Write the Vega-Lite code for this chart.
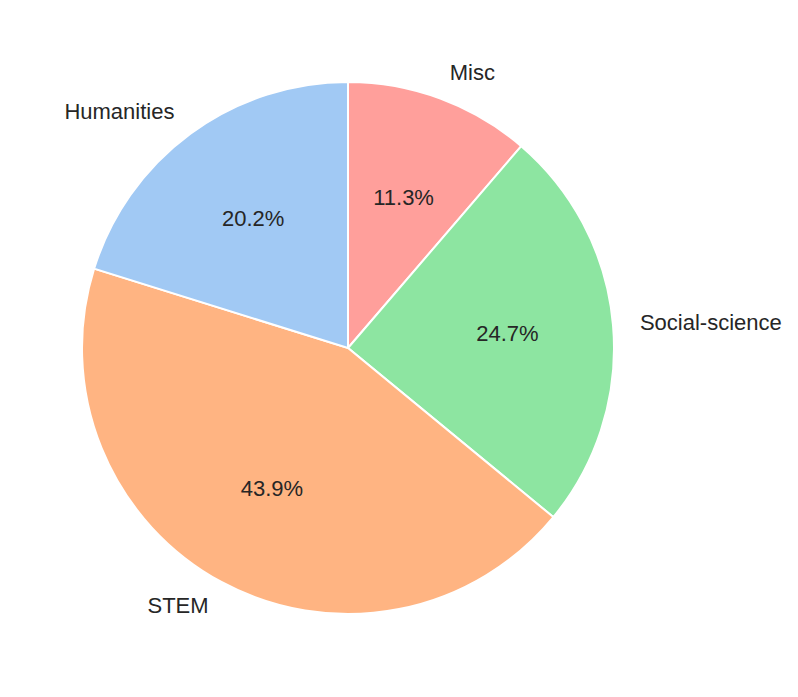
{
  "$schema": "https://vega.github.io/schema/vega-lite/v6.json",
  "width": 696,
  "height": 696,
  "padding": {"left": 0, "top": 0, "right": 102, "bottom": 1},
  "autosize": "none",
  "background": "white",
  "view": {"stroke": null},
  "data": {
    "values": [
      {"category": "Misc", "value": 11.3, "label": "11.3%", "order": 1},
      {"category": "Social-science", "value": 24.7, "label": "24.7%", "order": 2},
      {"category": "STEM", "value": 43.9, "label": "43.9%", "order": 3},
      {"category": "Humanities", "value": 20.2, "label": "20.2%", "order": 4}
    ]
  },
  "encoding": {
    "theta": {"field": "value", "type": "quantitative", "stack": true},
    "order": {"field": "order", "type": "quantitative"}
  },
  "layer": [
    {
      "mark": {"type": "arc", "radius": 266, "stroke": "white", "strokeWidth": 2},
      "encoding": {
        "color": {
          "field": "category",
          "type": "nominal",
          "scale": {
            "domain": ["Humanities", "STEM", "Social-science", "Misc"],
            "range": ["#a1c9f4", "#ffb482", "#8de5a1", "#ff9f9b"]
          },
          "legend": null
        }
      }
    },
    {
      "mark": {"type": "text", "radius": 160, "font": "Liberation Sans", "fontSize": 22, "color": "#262626", "align": "center", "baseline": "middle"},
      "encoding": {
        "text": {"field": "label", "type": "nominal"}
      }
    },
    {
      "mark": {"type": "text", "radius": 293, "font": "Liberation Sans", "fontSize": 22, "color": "#262626", "baseline": "middle",
        "align": {"expr": "datum.category == 'Humanities' || datum.category == 'STEM' ? 'right' : 'left'"}},
      "encoding": {
        "text": {"field": "category", "type": "nominal"}
      }
    }
  ]
}
